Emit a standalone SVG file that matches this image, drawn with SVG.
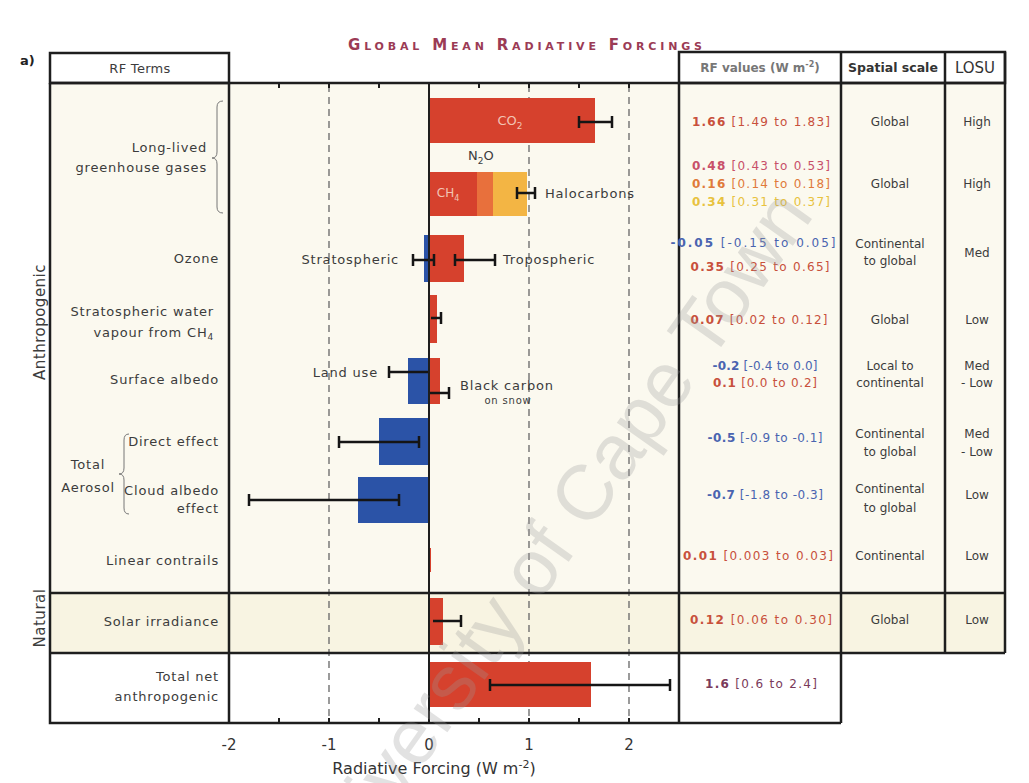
<svg xmlns="http://www.w3.org/2000/svg" width="1029" height="783" viewBox="0 0 1029 783">
<style>
.lbl{font-family:"DejaVu Sans",sans-serif;font-size:13px;fill:#3c3c3c;letter-spacing:0.8px}
.r{text-anchor:end}
.m{text-anchor:middle}
.val{font-family:"DejaVu Sans",sans-serif;font-size:12px;text-anchor:middle}
.tbl{font-family:"DejaVu Sans",sans-serif;font-size:12px;fill:#3c3c3c;text-anchor:middle}
.frame{fill:none;stroke:#1e1e1e;stroke-width:2.5}
.err{stroke:#151515;stroke-width:2.5;fill:none}
.dash{stroke:#666;stroke-width:1.3;stroke-dasharray:7 5}
.tick{stroke:#1e1e1e;stroke-width:2}
.red{fill:#d6412d}
.blue{fill:#2b53a7}
.brace{fill:none;stroke:#777;stroke-width:1}
.cr{fill:#c8503c}.cb{fill:#4a64b0}
.ax{font-family:"DejaVu Sans",sans-serif;font-size:15px;fill:#333;text-anchor:middle}
</style>
<rect width="1029" height="783" fill="#fff"/>
<!-- backgrounds -->
<rect x="50" y="83" width="955" height="510" fill="#fbf9ef"/>
<rect x="50" y="593" width="955" height="60" fill="#f8f4e2"/>
<!-- title -->
<text x="525" y="50" font-family="DejaVu Sans, sans-serif" font-size="15" font-weight="bold" fill="#9b3b55" text-anchor="middle" font-variant="small-caps" textLength="354" lengthAdjust="spacing">Global Mean Radiative Forcings</text>
<text x="20" y="65" font-family="DejaVu Sans, sans-serif" font-size="13" font-weight="bold" fill="#222">a)</text>
<!-- grid -->
<g id="grid">
<line class="dash" x1="329" y1="85" x2="329" y2="722"/>
<line class="dash" x1="529" y1="85" x2="529" y2="722"/>
<line class="dash" x1="629" y1="85" x2="629" y2="722"/>
<path class="tick" d="M279 83V88M329 83V88M379 83V88M479 83V88M529 83V88M579 83V88M629 83V88M279 723V718M329 723V718M379 723V718M479 723V718M529 723V718M579 723V718M629 723V718"/>
</g>
<!-- bars -->
<g id="row-co2">
<rect class="red" x="429" y="98" width="166" height="45"/>
<text x="510" y="125" font-family="DejaVu Sans, sans-serif" font-size="13" fill="#f2c4b4" text-anchor="middle">CO<tspan font-size="9" dy="4">2</tspan></text>
<path class="err" d="M579 122H612M579 116V128M612 116V128"/>
</g>
<g id="row-ghg">
<rect class="red" x="429" y="172" width="48" height="44"/>
<rect x="477" y="172" width="16" height="44" fill="#e8703c"/>
<rect x="493" y="172" width="34" height="44" fill="#f3b544"/>
<text x="448" y="197" font-family="DejaVu Sans, sans-serif" font-size="12" fill="#f2c4b4" text-anchor="middle">CH<tspan font-size="8" dy="4">4</tspan></text>
<text x="468" y="160" class="lbl" style="letter-spacing:0">N<tspan font-size="9" dy="4">2</tspan><tspan dy="-4">O</tspan></text>
<path class="err" d="M517 193H535M517 187V199M535 187V199"/>
<text x="545" y="198" class="lbl">Halocarbons</text>
</g>
<g id="row-ozone">
<rect class="blue" x="424" y="235" width="5" height="47"/>
<rect class="red" x="429" y="235" width="35" height="47"/>
<path class="err" d="M413 260H434M413 254V266M434 254V266"/>
<path class="err" d="M455 260H495M455 254V266M495 254V266"/>
<text x="399" y="264" class="lbl r">Stratospheric</text>
<text x="503" y="264" class="lbl">Tropospheric</text>
</g>
<g id="row-h2o">
<rect class="red" x="429" y="295" width="8" height="48"/>
<path class="err" d="M431 318H441M441 312V324"/>
</g>
<g id="row-albedo">
<rect class="blue" x="408" y="358" width="21" height="46"/>
<rect class="red" x="429" y="358" width="11" height="46"/>
<path class="err" d="M389 372H429M389 366V378"/>
<path class="err" d="M429 393H449M449 387V399"/>
<text x="378" y="377" class="lbl r">Land use</text>
<text x="460" y="390" class="lbl">Black carbon</text>
<text x="508" y="404" class="lbl m" style="font-size:10px">on snow</text>
</g>
<g id="row-direct">
<rect class="blue" x="379" y="418" width="50" height="47"/>
<path class="err" d="M339 442H419M339 436V448M419 436V448"/>
</g>
<g id="row-cloud">
<rect class="blue" x="358" y="477" width="71" height="46"/>
<path class="err" d="M249 500H399M249 494V506M399 494V506"/>
</g>
<g id="row-contrails">
<rect class="red" x="429" y="548" width="2" height="24"/>
</g>
<g id="row-solar">
<rect class="red" x="429" y="598" width="14" height="47"/>
<path class="err" d="M433 621H461M461 615V627"/>
</g>
<g id="row-total">
<rect class="red" x="429" y="662" width="162" height="45"/>
<path class="err" d="M490 685H670M490 679V691M670 679V691"/>
</g>
<line x1="429" y1="83" x2="429" y2="723" stroke="#1e1e1e" stroke-width="2"/>
<!-- frames -->
<g id="frame">
<rect class="frame" x="50" y="53" width="179" height="30" fill="#fff"/>
<rect class="frame" x="679" y="52" width="326" height="31"/>
<path class="frame" d="M50 83H1005M50 83V723H841M229 83V723M679 83V723M841 52V723M945 52V653M1005 52V653M50 593H1005M50 653H1005M679 723H841"/>
</g>
<!-- headers -->
<text x="140" y="73" class="lbl m" style="letter-spacing:0.3px">RF Terms</text>
<text x="760" y="72" font-family="DejaVu Sans, sans-serif" font-size="12" fill="#777" font-weight="bold" text-anchor="middle">RF values (W m<tspan font-size="8" dy="-5">-2</tspan><tspan dy="5">)</tspan></text>
<text x="893" y="72" font-family="DejaVu Sans, sans-serif" font-size="12.5" fill="#333" font-weight="bold" text-anchor="middle">Spatial scale</text>
<text x="975" y="73" font-family="DejaVu Sans, sans-serif" font-size="15" fill="#333" text-anchor="middle">LOSU</text>
<!-- left labels -->
<g id="labels-left">
<text x="45" y="322" transform="rotate(-90 45 322)" class="lbl m" style="font-size:15px;letter-spacing:0.5px">Anthropogenic</text>
<text x="45" y="618" transform="rotate(-90 45 618)" class="lbl m" style="font-size:15px;letter-spacing:0.5px">Natural</text>
<text x="207" y="152" class="lbl r">Long-lived</text>
<text x="207" y="172" class="lbl r">greenhouse gases</text>
<path class="brace" d="M223 101Q217 101 217 107V152Q217 158 212 158Q217 158 217 164V207Q217 213 223 213"/>
<text x="219" y="263" class="lbl r">Ozone</text>
<text x="214" y="316" class="lbl r">Stratospheric water</text>
<text x="214" y="337" class="lbl r">vapour from CH<tspan font-size="9" dy="3">4</tspan></text>
<text x="219" y="384" class="lbl r">Surface albedo</text>
<text x="219" y="446" class="lbl r">Direct effect</text>
<text x="88" y="469" class="lbl m">Total</text>
<text x="88" y="492" class="lbl m">Aerosol</text>
<path class="brace" d="M129 434Q124 434 124 440V468Q124 474 119 474Q124 474 124 480V508Q124 514 129 514"/>
<text x="219" y="495" class="lbl r">Cloud albedo</text>
<text x="219" y="513" class="lbl r">effect</text>
<text x="219" y="565" class="lbl r">Linear contrails</text>
<text x="219" y="626" class="lbl r">Solar irradiance</text>
<text x="219" y="681" class="lbl r">Total net</text>
<text x="219" y="701" class="lbl r">anthropogenic</text>
</g>
<!-- RF values -->
<g id="rf-values">
<text x="761" y="126" class="val cr" textLength="138" lengthAdjust="spacing"><tspan font-weight="bold">1.66</tspan> [1.49 to 1.83]</text>
<text x="761" y="170" class="val" fill="#c8506a" textLength="138" lengthAdjust="spacing"><tspan font-weight="bold">0.48</tspan> [0.43 to 0.53]</text>
<text x="761" y="188" class="val" fill="#e07a3a" textLength="138" lengthAdjust="spacing"><tspan font-weight="bold">0.16</tspan> [0.14 to 0.18]</text>
<text x="761" y="206" class="val" fill="#e8c23e" textLength="138" lengthAdjust="spacing"><tspan font-weight="bold">0.34</tspan> [0.31 to 0.37]</text>
<text x="753" y="247" class="val cb" textLength="165" lengthAdjust="spacing"><tspan font-weight="bold">-0.05</tspan> [-0.15 to 0.05]</text>
<text x="760" y="271" class="val cr" textLength="139" lengthAdjust="spacing"><tspan font-weight="bold">0.35</tspan> [0.25 to 0.65]</text>
<text x="759" y="324" class="val cr" textLength="137" lengthAdjust="spacing"><tspan font-weight="bold">0.07</tspan> [0.02 to 0.12]</text>
<text x="765" y="370" class="val cb" textLength="105" lengthAdjust="spacing"><tspan font-weight="bold">-0.2</tspan> [-0.4 to 0.0]</text>
<text x="765" y="387" class="val cr" textLength="104" lengthAdjust="spacing"><tspan font-weight="bold">0.1</tspan> [0.0 to 0.2]</text>
<text x="765" y="442" class="val cb" textLength="115" lengthAdjust="spacing"><tspan font-weight="bold">-0.5</tspan> [-0.9 to -0.1]</text>
<text x="765" y="499" class="val cb" textLength="116" lengthAdjust="spacing"><tspan font-weight="bold">-0.7</tspan> [-1.8 to -0.3]</text>
<text x="758" y="560" class="val cr" textLength="150" lengthAdjust="spacing"><tspan font-weight="bold">0.01</tspan> [0.003 to 0.03]</text>
<text x="761" y="624" class="val cr" textLength="142" lengthAdjust="spacing"><tspan font-weight="bold">0.12</tspan> [0.06 to 0.30]</text>
<text x="761" y="688" class="val" fill="#7a3a5a" textLength="112" lengthAdjust="spacing"><tspan font-weight="bold">1.6</tspan> [0.6 to 2.4]</text>
</g>
<!-- spatial scale -->
<g id="spatial-scale">
<text x="890" y="126" class="tbl">Global</text>
<text x="890" y="188" class="tbl">Global</text>
<text x="890" y="248" class="tbl">Continental</text>
<text x="890" y="265" class="tbl">to global</text>
<text x="890" y="324" class="tbl">Global</text>
<text x="890" y="370" class="tbl">Local to</text>
<text x="890" y="387" class="tbl">continental</text>
<text x="890" y="438" class="tbl">Continental</text>
<text x="890" y="456" class="tbl">to global</text>
<text x="890" y="493" class="tbl">Continental</text>
<text x="890" y="512" class="tbl">to global</text>
<text x="890" y="560" class="tbl">Continental</text>
<text x="890" y="624" class="tbl">Global</text>
</g>
<g id="losu">
<text x="977" y="126" class="tbl">High</text>
<text x="977" y="188" class="tbl">High</text>
<text x="977" y="257" class="tbl">Med</text>
<text x="977" y="324" class="tbl">Low</text>
<text x="977" y="370" class="tbl">Med</text>
<text x="977" y="387" class="tbl">- Low</text>
<text x="977" y="438" class="tbl">Med</text>
<text x="977" y="456" class="tbl">- Low</text>
<text x="977" y="499" class="tbl">Low</text>
<text x="977" y="560" class="tbl">Low</text>
<text x="977" y="624" class="tbl">Low</text>
</g>
<!-- axis -->
<g id="axis">
<text x="229" y="750" class="ax">-2</text>
<text x="329" y="750" class="ax">-1</text>
<text x="429" y="750" class="ax">0</text>
<text x="529" y="750" class="ax">1</text>
<text x="629" y="750" class="ax">2</text>
<text x="434" y="774" class="ax" style="font-size:16px">Radiative Forcing  (W m<tspan font-size="11" dy="-6">-2</tspan><tspan dy="6">)</tspan></text>
</g>
<!-- watermark -->
<g id="watermark" opacity="0.28">
<text x="0" y="0" transform="translate(815,215) rotate(-54.6)" font-family="Liberation Sans, sans-serif" font-size="78" fill="#9a9a9a" text-anchor="end">University of Cape Town</text>
</g>
</svg>
